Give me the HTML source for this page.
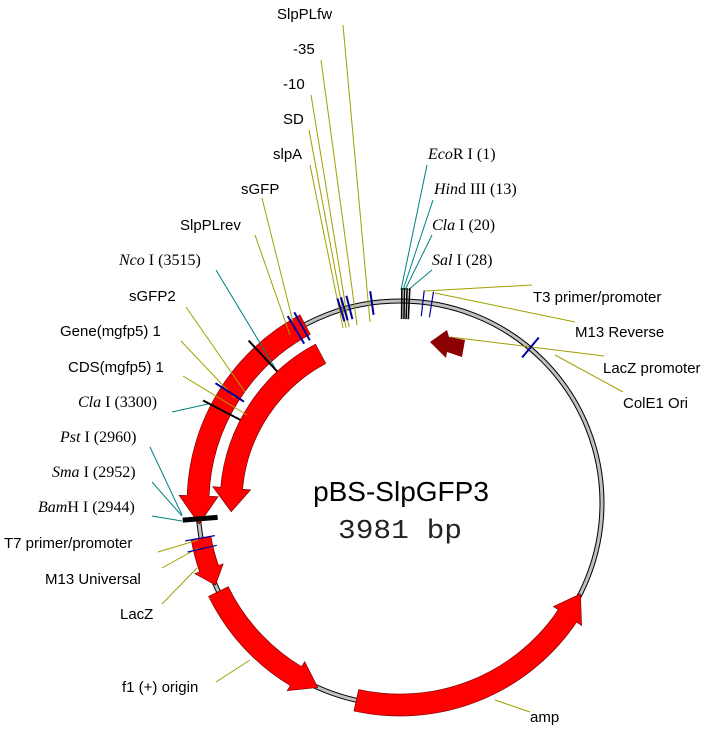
<!DOCTYPE html>
<html><head><meta charset="utf-8"><style>
body{margin:0;background:#fff;}
svg{display:block;}
.l{font-family:"Liberation Sans",Arial,sans-serif;font-size:15px;fill:#000;}
.r{font-family:"Liberation Serif","Times New Roman",serif;font-size:16px;fill:#000;}
</style></head><body>
<svg id="s" width="720" height="732" viewBox="0 0 720 732" xmlns="http://www.w3.org/2000/svg">
<g id="shapes"></g>
<g stroke-width="1" fill="none">
<g stroke="#a0a000">
<line x1="343" y1="25" x2="370" y2="322"/>
<line x1="321" y1="60" x2="357" y2="325"/>
<line x1="311" y1="95" x2="349" y2="327"/>
<line x1="309" y1="130" x2="346" y2="328"/>
<line x1="310" y1="165" x2="343" y2="328"/>
<line x1="262" y1="198" x2="293" y2="322"/>
<line x1="255" y1="235" x2="290" y2="335"/>
<line x1="186" y1="307" x2="245" y2="392"/>
<line x1="181" y1="341" x2="235" y2="398"/>
<line x1="183" y1="376" x2="247" y2="415"/>
<line x1="158" y1="552" x2="198" y2="540"/>
<line x1="162" y1="568" x2="198" y2="548"/>
<line x1="162" y1="604" x2="197" y2="568"/>
<line x1="216" y1="682" x2="250" y2="660"/>
<line x1="530" y1="712" x2="495" y2="700"/>
<line x1="532" y1="285" x2="425" y2="291"/>
<line x1="575" y1="322" x2="435" y2="293"/>
<line x1="604" y1="356" x2="450" y2="337"/>
<line x1="623" y1="392" x2="555" y2="355"/>
</g>
<g stroke="#008080">
<line x1="216" y1="270" x2="275" y2="368"/>
<line x1="172" y1="412" x2="208" y2="404"/>
<line x1="150" y1="447" x2="182" y2="515"/>
<line x1="152" y1="482" x2="182" y2="516"/>
<line x1="152" y1="516" x2="182" y2="521"/>
<line x1="427" y1="165" x2="401" y2="290"/>
<line x1="433" y1="200" x2="403" y2="290"/>
<line x1="432" y1="235" x2="405" y2="290"/>
<line x1="432" y1="270" x2="408" y2="290"/>
</g>
</g>
<g id="ticks"></g>
<polygon points="430,342 447,330 449,337 465,340 462,357 447,352 446,358" fill="#8b0000"/>
<text class="l" x="277" y="19">SlpPLfw</text>
<text class="l" x="293" y="54">-35</text>
<text class="l" x="283" y="89">-10</text>
<text class="l" x="283" y="124">SD</text>
<text class="l" x="273" y="159">slpA</text>
<text class="l" x="241" y="194">sGFP</text>
<text class="l" x="180" y="230">SlpPLrev</text>
<text class="r" x="119" y="265"><tspan font-style="italic">Nco</tspan> I (3515)</text>
<text class="l" x="129" y="301">sGFP2</text>
<text class="l" x="60" y="336">Gene(mgfp5) 1</text>
<text class="l" x="68" y="372">CDS(mgfp5) 1</text>
<text class="r" x="78" y="407"><tspan font-style="italic">Cla</tspan> I (3300)</text>
<text class="r" x="60" y="442"><tspan font-style="italic">Pst</tspan> I (2960)</text>
<text class="r" x="52" y="477"><tspan font-style="italic">Sma</tspan> I (2952)</text>
<text class="r" x="38" y="512"><tspan font-style="italic">Bam</tspan>H I (2944)</text>
<text class="l" x="4" y="548">T7 primer/promoter</text>
<text class="l" x="45" y="584">M13 Universal</text>
<text class="l" x="120" y="619">LacZ</text>
<text class="l" x="122" y="692">f1 (+) origin</text>
<text class="l" x="530" y="722">amp</text>
<text class="r" x="428" y="159"><tspan font-style="italic">Eco</tspan>R I (1)</text>
<text class="r" x="434" y="194"><tspan font-style="italic">Hin</tspan>d III (13)</text>
<text class="r" x="432" y="230"><tspan font-style="italic">Cla</tspan> I (20)</text>
<text class="r" x="432" y="265"><tspan font-style="italic">Sal</tspan> I (28)</text>
<text class="l" x="533" y="302">T3 primer/promoter</text>
<text class="l" x="575" y="337">M13 Reverse</text>
<text class="l" x="603" y="373">LacZ promoter</text>
<text class="l" x="623" y="408">ColE1 Ori</text>
<text x="401" y="501" text-anchor="middle" font-family="Liberation Sans,Arial,sans-serif" font-size="28">pBS-SlpGFP3</text>
<text x="400" y="538" text-anchor="middle" font-family="Liberation Mono,monospace" font-size="27" textLength="124" lengthAdjust="spacingAndGlyphs" fill="#222">3981 bp</text>
</svg>
<script>
var cx=400,cy=503,R=202,NS="http://www.w3.org/2000/svg";
function P(r,t){var a=t*Math.PI/180;return (cx+r*Math.sin(a)).toFixed(1)+","+(cy-r*Math.cos(a)).toFixed(1);}
var sh=document.getElementById("shapes"),tk=document.getElementById("ticks");
function add(g,tag,attrs){var e=document.createElementNS(NS,tag);for(var k in attrs)e.setAttribute(k,attrs[k]);g.appendChild(e);return e;}
add(sh,"circle",{cx:cx,cy:cy,r:R,fill:"none",stroke:"#000","stroke-width":5});
add(sh,"circle",{cx:cx,cy:cy,r:R,fill:"none",stroke:"#c0c0c0","stroke-width":3});
function arrow(a,b,h,r1,r2,rh1,rh2,col){
 var la=Math.abs(a-h)>180?1:0;
 var d="M"+P(r2,a)+" A"+r2+","+r2+" 0 "+la+" 0 "+P(r2,h)+" L"+P(rh2,h)+" L"+P((r1+r2)/2,b)+" L"+P(rh1,h)+" L"+P(r1,h)+" A"+r1+","+r1+" 0 "+la+" 1 "+P(r1,a)+" Z";
 add(sh,"path",{d:d,fill:col||"#ff0000",stroke:"#600","stroke-width":0.6});
}
arrow(-28,-96,-88,191,213,182,221);
arrow(-28,-93,-85,158,180,150,188);
arrow(-100,-114,-109,192,212,187,217);
arrow(-116,-156,-149,191,213,185,219);
arrow(192.5,116.7,124,191,213,185,219);
function tick(t,r1,r2,col,w){var a=P(r1,t).split(","),b=P(r2,t).split(",");add(tk,"line",{x1:a[0],y1:a[1],x2:b[0],y2:b[1],stroke:col,"stroke-width":w});}
var B="#0000a0",K="#000";
[-17,-16,-14.5,-8].forEach(function(t){tick(t,190,214,B,2);});
[0.5,1.2,1.9,2.6].forEach(function(t){tick(t,184,215,K,1.6);});
[6.5,9].forEach(function(t){tick(t,188,214,B,1.2);});
tick(40,190,216,B,2);
[-31,-29].forEach(function(t){tick(t,186,218,B,2);});
tick(-43,180,222,K,2);
tick(-57,186,220,B,2);
tick(-62.5,180,222,K,2);
tick(-94.5,183,218,K,5);
[-100,-103].forEach(function(t){tick(t,188,218,B,1.2);});
</script>
</body></html>
